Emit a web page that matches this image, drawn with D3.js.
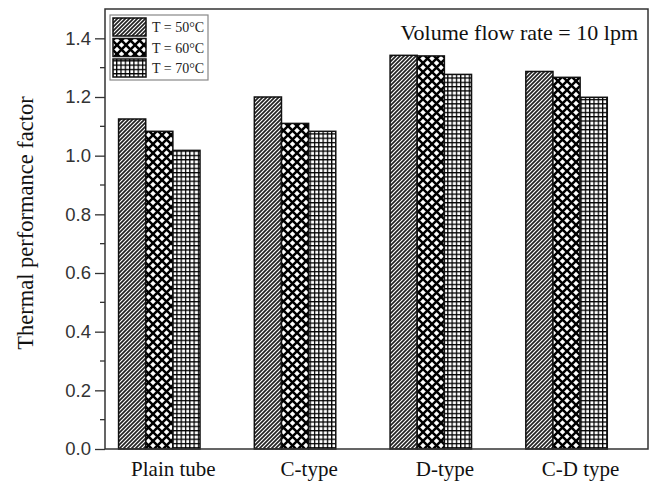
<!DOCTYPE html>
<html><head><meta charset="utf-8">
<script src="https://cdn.jsdelivr.net/npm/d3@7"></script>
<style>body{margin:0;background:#fff;}svg{display:block;}</style>
</head><body>
<svg id="c" width="654" height="482"></svg>
<script>
const categories = ["Plain tube", "C-type", "D-type", "C-D type"];
const seriesNames = ["T = 50°C", "T = 60°C", "T = 70°C"];
const values50 = [1.125, 1.20, 1.342, 1.287];
const values60 = [1.083, 1.110, 1.340, 1.267];
const values70 = [1.018, 1.083, 1.277, 1.199];
const yTicks = [0.0, 0.2, 0.4, 0.6, 0.8, 1.0, 1.2, 1.4];
const annotation = "Volume flow rate = 10 lpm";
const yLabel = "Thermal performance factor";

const series = [values50, values60, values70];
const patterns = ["hatch", "cross", "grid"];

const svg = d3.select("#c");
const L = 105, R = 648, T = 9, B = 449;
const x = d3.scaleLinear().domain([0.5, 4.5]).range([L, R]);
const y = d3.scaleLinear().domain([0, 1.5]).range([B, T]);

const defs = svg.append("defs");
const p1 = defs.append("pattern").attr("id", "hatch").attr("patternUnits", "userSpaceOnUse")
  .attr("width", 4).attr("height", 4);
p1.append("rect").attr("width", 4).attr("height", 4).attr("fill", "#fff");
p1.append("path").attr("d", "M-1,1 l2,-2 M0,4 l4,-4 M3,5 l2,-2").attr("stroke", "#222").attr("stroke-width", 1.7);
const p2 = defs.append("pattern").attr("id", "cross").attr("patternUnits", "userSpaceOnUse")
  .attr("width", 9).attr("height", 9);
p2.append("rect").attr("width", 9).attr("height", 9).attr("fill", "#fff");
p2.append("path").attr("d", "M0,0 L9,9 M9,0 L0,9").attr("stroke", "#000").attr("stroke-width", 2.5);
const p3 = defs.append("pattern").attr("id", "grid").attr("patternUnits", "userSpaceOnUse")
  .attr("width", 4.3).attr("height", 4.3);
p3.append("rect").attr("width", 4.3).attr("height", 4.3).attr("fill", "#fff");
p3.append("path").attr("d", "M0,0 H4.3 M0,0 V4.3").attr("stroke", "#000").attr("stroke-width", 2.5);

series.forEach((vals, j) => {
  svg.append("g").selectAll("rect").data(vals).join("rect")
    .attr("x", (d, i) => x(i + 1 - 0.4 + j * 0.2))
    .attr("width", x(0.7) - x(0.5))
    .attr("y", d => y(d))
    .attr("height", d => y(0) - y(d))
    .attr("fill", `url(#${patterns[j]})`)
    .attr("stroke", "#111").attr("stroke-width", 1.5);
});

svg.append("rect").attr("x", L).attr("y", T).attr("width", R - L).attr("height", B - T)
  .attr("fill", "none").attr("stroke", "#333").attr("stroke-width", 1.5);

const yAxis = d3.axisLeft(y).tickValues(yTicks).tickFormat(d3.format(".1f")).tickSize(10).tickPadding(4);
const gy = svg.append("g").attr("transform", `translate(${L},0)`).call(yAxis);
gy.select(".domain").remove();
gy.selectAll("line").attr("stroke", "#333").attr("stroke-width", 1.3);
gy.selectAll("text").attr("font-family", "Liberation Sans, Arial, sans-serif").attr("font-size", 18.5).attr("fill", "#333");
const minor = d3.range(0.1, 1.5, 0.2);
svg.append("g").selectAll("line").data(minor).join("line")
  .attr("x1", L - 5).attr("x2", L).attr("y1", d => y(d)).attr("y2", d => y(d))
  .attr("stroke", "#333").attr("stroke-width", 1.3);

const xAxis = d3.axisBottom(x).tickValues([1, 2, 3, 4]).tickFormat(d => categories[d - 1]).tickSize(0).tickPadding(12);
const gx = svg.append("g").attr("transform", `translate(0,${B})`).call(xAxis);
gx.select(".domain").remove();
gx.selectAll("text").attr("font-family", "Liberation Serif, Times New Roman, serif").attr("font-size", 21).attr("fill", "#111");

svg.append("text").attr("transform", `translate(33,${(T + B) / 2 - 6}) rotate(-90)`)
  .attr("text-anchor", "middle").attr("font-family", "Liberation Serif, Times New Roman, serif")
  .attr("font-size", 22.5).attr("fill", "#111").text(yLabel);

svg.append("text").attr("x", 638).attr("y", 40).attr("text-anchor", "end")
  .attr("font-family", "Liberation Serif, Times New Roman, serif").attr("font-size", 22).attr("fill", "#111")
  .text(annotation);

const lg = svg.append("g");
lg.append("rect").attr("x", 110).attr("y", 15).attr("width", 98).attr("height", 65)
  .attr("fill", "#fff").attr("stroke", "#888").attr("stroke-width", 1.2);
seriesNames.forEach((name, j) => {
  const yy = 18 + j * 20.5;
  lg.append("rect").attr("x", 113).attr("y", yy).attr("width", 33).attr("height", 18)
    .attr("fill", `url(#${patterns[j]})`).attr("stroke", "#111").attr("stroke-width", 1.5);
  lg.append("text").attr("x", 152).attr("y", yy + 14).attr("font-family", "Liberation Serif, Times New Roman, serif")
    .attr("font-size", 14).attr("fill", "#222").text(name);
});
</script>
</body></html>
